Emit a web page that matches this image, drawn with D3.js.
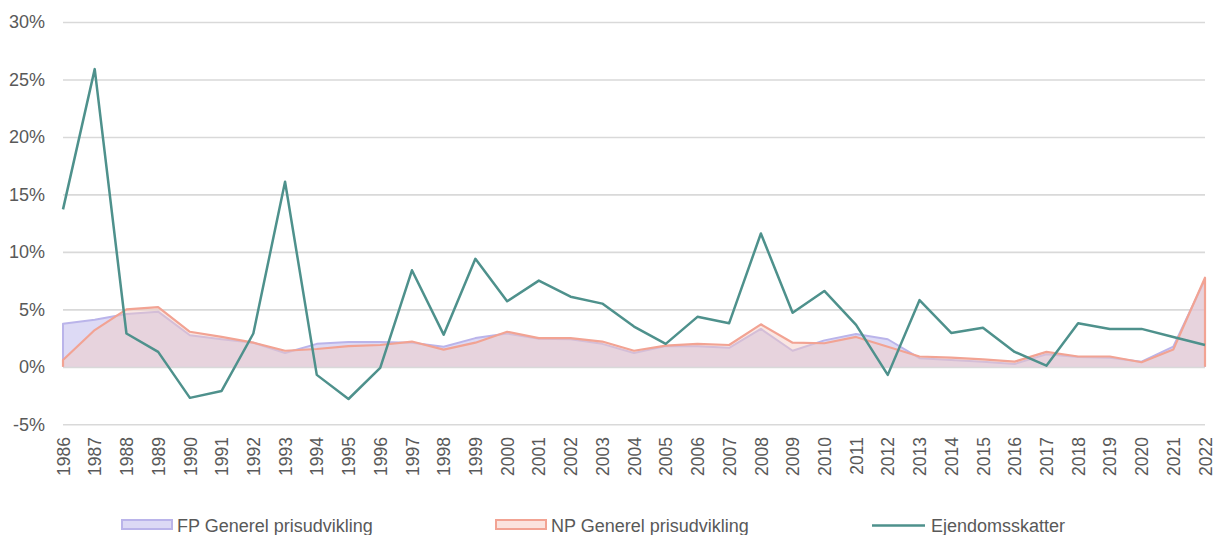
<!DOCTYPE html>
<html>
<head>
  <meta charset="utf-8">
  <script src="https://cdn.jsdelivr.net/npm/d3@7"></script>
  <style>
    body { margin: 0; background: #fff; }
    text { font-family: "Liberation Sans", Arial, sans-serif; fill: #595959; }
  </style>
</head>
<body>
  <svg width="1213" height="535"></svg>
<script>

const years = d3.range(1986, 2023);

// FP Generel prisudvikling (%)
const fp = [3.75, 4.1, 4.6, 4.8, 2.75, 2.4, 2.1, 1.2, 2.0, 2.15, 2.15, 2.1, 1.75, 2.5, 2.9, 2.45, 2.4, 2.0,
  1.2, 1.8, 1.8, 1.65, 3.3, 1.4, 2.3, 2.85, 2.4, 0.75, 0.6, 0.45, 0.25, 1.1, 0.85, 0.8, 0.45, 1.75, 7.6];

// NP Generel prisudvikling (%)
const np = [0.6, 3.2, 5.0, 5.2, 3.05, 2.6, 2.1, 1.4, 1.55, 1.8, 1.9, 2.2, 1.5, 2.1, 3.05, 2.5, 2.5, 2.2,
  1.4, 1.85, 2.0, 1.9, 3.7, 2.1, 2.05, 2.6, 1.75, 0.9, 0.8, 0.65, 0.45, 1.3, 0.9, 0.9, 0.4, 1.5, 7.75];

// Ejendomsskatter (%)
const tax = [13.7, 25.9, 2.9, 1.3, -2.7, -2.1, 2.9, 16.1, -0.7, -2.8, -0.1, 8.4, 2.8, 9.4, 5.7, 7.5, 6.1, 5.5,
  3.5, 2.0, 4.35, 3.8, 11.6, 4.7, 6.6, 3.65, -0.7, 5.8, 2.95, 3.4, 1.3, 0.1, 3.8, 3.3, 3.3, 2.6, 1.9];

const yTicks = [-5, 0, 5, 10, 15, 20, 25, 30];

const legendItems = ['FP Generel prisudvikling', 'NP Generel prisudvikling', 'Ejendomsskatter'];

let svg = d3.select('svg');

let x = d3.scaleLinear().domain([1986, 2022]).range([63, 1205]);
let y = d3.scaleLinear().domain([-5, 30]).range([424.3, 22]);

// gridlines + y labels
let yAxis = d3.axisLeft(y).tickValues(yTicks).tickSize(-(1205 - 63)).tickPadding(18)
  .tickFormat(d => d + '%');
let ga = svg.append('g').attr('transform', 'translate(63,0)').call(yAxis);
ga.select('.domain').remove();
ga.selectAll('line').attr('stroke', '#d9d9d9').attr('stroke-width', 1.6);
ga.selectAll('text').attr('font-size', 18).attr('fill', '#595959')
  .attr('font-family', '"Liberation Sans", Arial, sans-serif');

// x labels
let xAxis = d3.axisBottom(x).tickValues(years).tickSize(0).tickFormat(d => d);
let gx = svg.append('g').attr('transform', 'translate(0,437)').call(xAxis);
gx.select('.domain').remove();
gx.selectAll('text')
  .attr('font-size', 17.5)
  .attr('fill', '#595959')
  .attr('font-family', '"Liberation Sans", Arial, sans-serif')
  .attr('text-anchor', 'end')
  .attr('transform', 'rotate(-90)')
  .attr('x', 0).attr('y', 0).attr('dy', '0.35em')
  .attr('dx', 0);
gx.selectAll('.tick').each(function(d) {
  d3.select(this).select('text').attr('transform', 'rotate(-90)');
});

let area = (vals) => d3.area().x((d, i) => x(years[i])).y0(y(0)).y1(d => y(d))(vals);
let outline = (vals) => {
  let pts = [[x(years[0]), y(0)]];
  vals.forEach((d, i) => pts.push([x(years[i]), y(d)]));
  pts.push([x(years[years.length - 1]), y(0)]);
  return d3.line()(pts);
};

// FP area
svg.append('path').attr('d', area(fp)).attr('fill', '#c6c1ee').attr('fill-opacity', 0.6);
svg.append('path').attr('d', outline(fp)).attr('fill', 'none').attr('stroke', '#bab4ea')
  .attr('stroke-width', 2).attr('stroke-linejoin', 'round');

// NP area
svg.append('path').attr('d', area(np)).attr('fill', '#f4c9c0').attr('fill-opacity', 0.45);
svg.append('path').attr('d', outline(np)).attr('fill', 'none').attr('stroke', '#f2a393')
  .attr('stroke-width', 2.2).attr('stroke-linejoin', 'round');

// Ejendomsskatter line
svg.append('path')
  .attr('d', d3.line().x((d, i) => x(years[i])).y(d => y(d))(tax))
  .attr('fill', 'none').attr('stroke', '#4e918c').attr('stroke-width', 2.5)
  .attr('stroke-linejoin', 'round');

// legend
let lg = svg.append('g');
let lx = [122, 496, 872];
legendItems.forEach((name, i) => {
  if (i < 2) {
    lg.append('rect').attr('x', lx[i]).attr('y', 520).attr('width', 50).attr('height', 9)
      .attr('fill', i === 0 ? '#dcd9f5' : '#fbe3de')
      .attr('stroke', i === 0 ? '#bab4ea' : '#f2a393').attr('stroke-width', 2);
  } else {
    lg.append('line').attr('x1', lx[i]).attr('x2', lx[i] + 53).attr('y1', 525.5).attr('y2', 525.5)
      .attr('stroke', '#4e918c').attr('stroke-width', 2.5);
  }
  lg.append('text').attr('x', lx[i] + (i < 2 ? 55 : 59)).attr('y', 532)
    .attr('font-size', 18).text(name);
});

</script>
</body>
</html>
